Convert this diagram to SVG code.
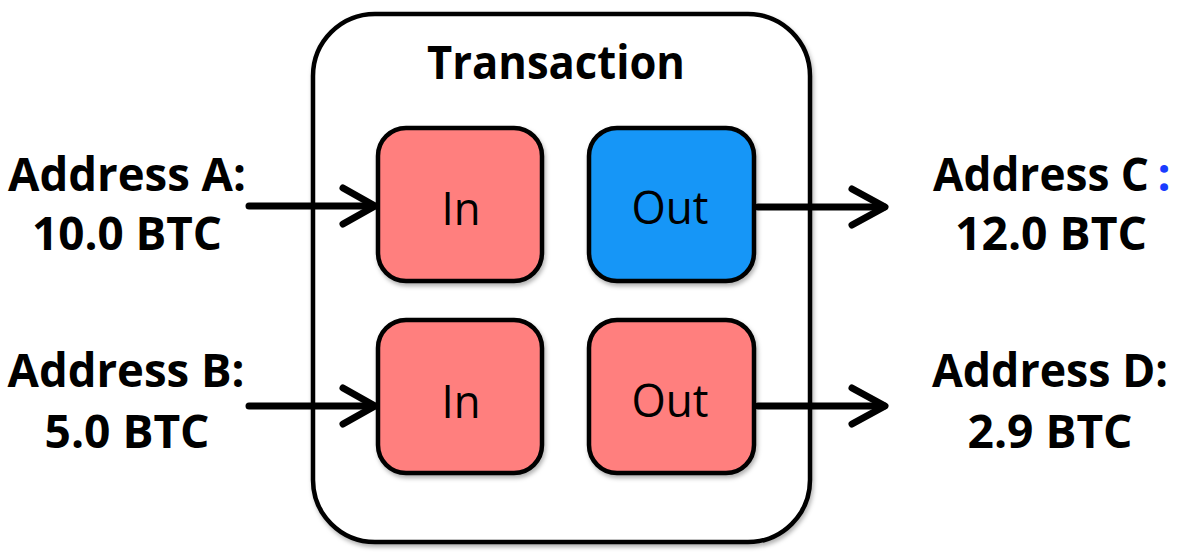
<svg xmlns="http://www.w3.org/2000/svg" width="1180" height="554" viewBox="0 0 1180 554">
<style>
.lbl{font-family:"Open Sans","Liberation Sans",sans-serif;font-weight:bold;font-size:46px;fill:#000;text-anchor:middle}
.box{stroke:#000;stroke-width:4.5}
.in{fill:#ff7f7e}
.out{fill:#1296f7}
.btxt{font-family:"Open Sans","Liberation Sans",sans-serif;font-size:46px;fill:#000;text-anchor:middle}
.conn line,.conn polyline{stroke:#000;stroke-width:7;fill:none;stroke-linecap:round;stroke-linejoin:round}
</style>
<defs>
<filter id="sh" x="-10%" y="-10%" width="130%" height="130%">
<feDropShadow dx="1.5" dy="3" stdDeviation="2" flood-color="#000" flood-opacity="0.3"/>
</filter>
</defs>
<rect width="1180" height="554" fill="#fff"/>
<g id="transaction">
<rect x="313" y="14" width="497" height="528" rx="62" ry="62" fill="#fff" stroke="#000" stroke-width="4.5" filter="url(#sh)"/>
<text class="lbl" x="556" y="79" font-size="48" textLength="258" lengthAdjust="spacingAndGlyphs">Transaction</text>
</g>
<g id="in1">
<rect class="box in" x="378" y="128" width="164" height="153" rx="28" filter="url(#sh)"/>
<text class="btxt" x="461" y="225" textLength="39" lengthAdjust="spacingAndGlyphs">In</text>
</g>
<g id="out1">
<rect class="box out" x="589" y="128" width="165" height="153" rx="28" filter="url(#sh)"/>
<text class="btxt" x="670" y="224" textLength="77" lengthAdjust="spacingAndGlyphs">Out</text>
</g>
<g id="in2">
<rect class="box in" x="378" y="320" width="164" height="153" rx="28" filter="url(#sh)"/>
<text class="btxt" x="461" y="418" textLength="39" lengthAdjust="spacingAndGlyphs">In</text>
</g>
<g id="out2">
<rect class="box in" x="589" y="320" width="165" height="153" rx="28" filter="url(#sh)"/>
<text class="btxt" x="670" y="417" textLength="77" lengthAdjust="spacingAndGlyphs">Out</text>
</g>
<g id="addrA">
<text class="lbl" x="127" y="191" textLength="238" lengthAdjust="spacingAndGlyphs">Address A:</text>
<text class="lbl" x="127" y="250" textLength="190" lengthAdjust="spacingAndGlyphs">10.0 BTC</text>
</g>
<g id="addrB">
<text class="lbl" x="126" y="387" textLength="237" lengthAdjust="spacingAndGlyphs">Address B:</text>
<text class="lbl" x="127" y="448" textLength="165" lengthAdjust="spacingAndGlyphs">5.0 BTC</text>
</g>
<g id="addrC">
<text class="lbl" x="1041" y="191" textLength="216" lengthAdjust="spacingAndGlyphs">Address C</text>
<text class="lbl" x="1164" y="191" style="fill:#1a3cff">:</text>
<text class="lbl" x="1051" y="250" textLength="192" lengthAdjust="spacingAndGlyphs">12.0 BTC</text>
</g>
<g id="addrD">
<text class="lbl" x="1050" y="387" textLength="236" lengthAdjust="spacingAndGlyphs">Address D:</text>
<text class="lbl" x="1050" y="448" textLength="165" lengthAdjust="spacingAndGlyphs">2.9 BTC</text>
</g>
<g class="conn" id="connectors">
<line x1="249" y1="206" x2="374" y2="206"/>
<polyline points="343,188 375,206 343,224"/>
<line x1="249" y1="406" x2="374" y2="406"/>
<polyline points="343,388 375,406 343,424"/>
<line x1="758" y1="207" x2="884" y2="207"/>
<polyline points="852,189 885,207 852,225"/>
<line x1="758" y1="406" x2="884" y2="406"/>
<polyline points="852,388 885,406 852,424"/>
</g>
</svg>
